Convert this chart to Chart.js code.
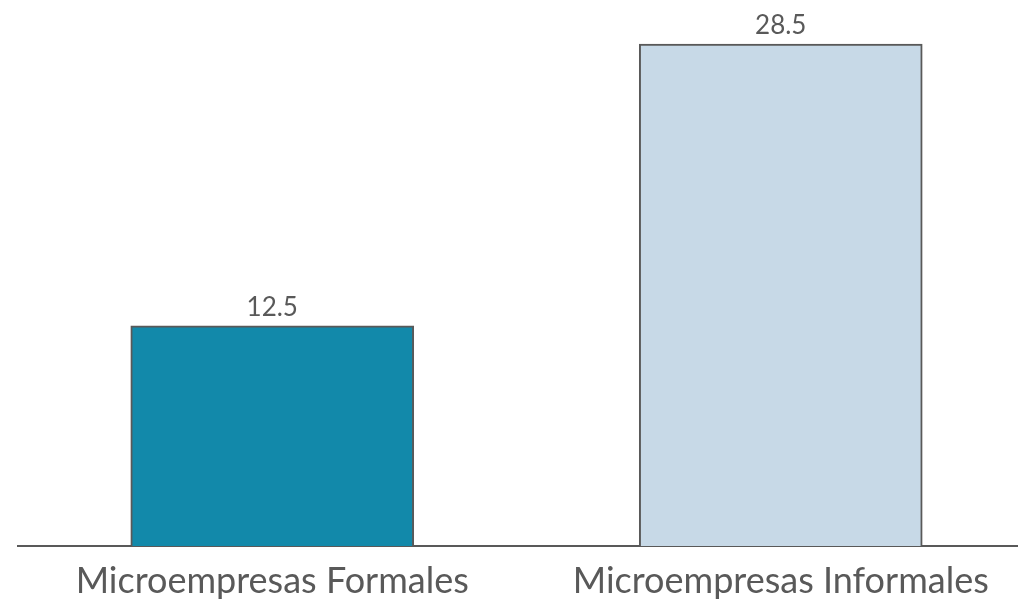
<!DOCTYPE html>
<html>
<head>
<meta charset="utf-8">
<script src="https://cdn.jsdelivr.net/npm/chart.js@4/dist/chart.umd.min.js"></script>
<style>
  html, body { margin: 0; padding: 0; background: #fff; overflow: hidden; }
  #wrap { position: relative; width: 1035px; height: 599px; }
</style>
</head>
<body>
<div id="wrap"><canvas id="c"></canvas></div>
<script>
const categories = ['Microempresas Formales', 'Microempresas Informales'];
const values = [12.5, 28.5];
const barColors = ['#1289AA', '#C7D9E7'];
const valueLabels = ['12.5', '28.5'];

const ink = '#595959';

// Writes each bar's value just above its top edge
const valueLabelPlugin = {
  id: 'valueLabels',
  afterDatasetsDraw(chart) {
    const ctx = chart.ctx;
    const meta = chart.getDatasetMeta(0);
    ctx.save();
    ctx.font = '26px Lato';
    ctx.fillStyle = ink;
    ctx.textAlign = 'center';
    ctx.textBaseline = 'alphabetic';
    meta.data.forEach((bar, i) => {
      ctx.fillText(valueLabels[i], bar.x, bar.y - 10);
    });
    ctx.restore();
  }
};

new Chart(document.getElementById('c'), {
  type: 'bar',
  data: {
    labels: categories,
    datasets: [{
      data: values,
      backgroundColor: barColors,
      borderColor: ink,
      borderWidth: 2,
      barThickness: 283
    }]
  },
  options: {
    responsive: true,
    maintainAspectRatio: false,
    animation: false,
    layout: { padding: { left: 18, right: 0, top: 0, bottom: 0 } },
    plugins: { legend: { display: false }, tooltip: { enabled: false } },
    scales: {
      x: {
        grid: { display: false, drawTicks: false },
        border: { display: true, color: ink, width: 2 },
        ticks: { color: ink, font: { family: 'Lato', size: 36 }, padding: 14 },
        afterFit(scale) { scale.height = 53; }
      },
      y: {
        display: false,
        min: 0,
        max: 31,
        grid: { display: false }
      }
    }
  },
  plugins: [valueLabelPlugin]
});
</script>
</body>
</html>
